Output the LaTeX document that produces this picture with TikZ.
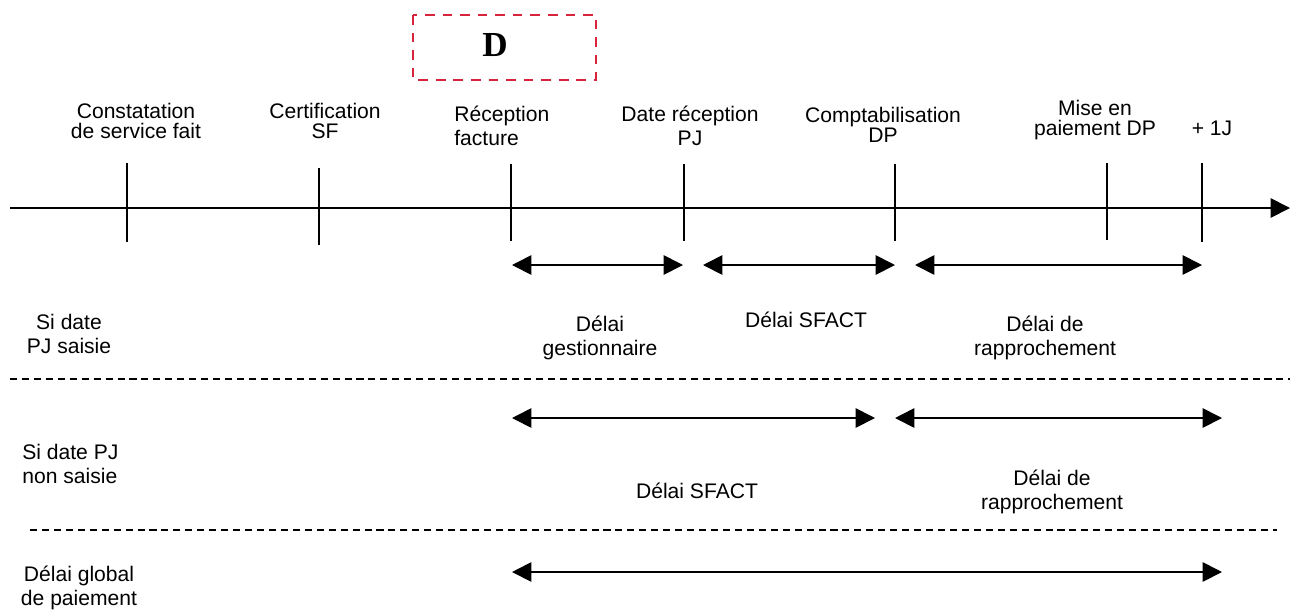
\documentclass[tikz,border=0pt]{standalone}
\usepackage{fontspec}
\setmainfont{Liberation Sans}
\newfontfamily\dfont{Liberation Serif}
\usetikzlibrary{arrows.meta}
\definecolor{dred}{RGB}{215,35,60}

\begin{document}
\begin{tikzpicture}[x=0.02cm, y=-0.02cm, >={Triangle[length=11pt,width=11pt]},
    lbl/.style={align=center, inner sep=0pt, font=\fontsize{12}{13.6}\selectfont},
    lbltight/.style={lbl, font=\fontsize{12}{11.6}\selectfont},
    ticklin/.style={line width=1pt},
    spanarrow/.style={<->, line width=1pt},
    sepline/.style={line width=0.8pt, dash pattern=on 4pt off 2.8pt}]
  \useasboundingbox (0,0) rectangle (1290,609);

  % Marker box above the timeline
  \draw[dred, line width=1.2pt, dash pattern=on 5.5pt off 4.5pt] (413,15) rectangle (596,80);
  \node[font=\dfont\fontsize{20}{24}\selectfont\bfseries, inner sep=0pt] (dmark) at (495,45) {D};

  % Timeline
  \coordinate (tstart) at (10,208);
  \coordinate (tend) at (1290,208);
  \draw[->, line width=1pt] (tstart) -- (tend);

  % Ticks on the timeline
  \draw[ticklin] (127,163) -- (127,242);
  \draw[ticklin] (319,168) -- (319,245);
  \draw[ticklin] (511,164) -- (511,241);
  \draw[ticklin] (684,164) -- (684,241);
  \draw[ticklin] (895,164) -- (895,241);
  \draw[ticklin] (1107,163) -- (1107,240);
  \draw[ticklin] (1202,163) -- (1202,242);

  % Event labels above the ticks
  \node[lbltight] (constat) at (136,121) {Constatation\\de service fait};
  \node[lbltight] (certif) at (325,121) {Certification\\SF};
  \node[lbl, anchor=west, align=left] (recfact) at (454,126) {Réception\\facture};
  \node[lbl] (datepj) at (690,126) {Date réception\\PJ};
  \node[lbltight] (comptab) at (883,125) {Comptabilisation\\DP};
  \node[lbltight] (misepaie) at (1095,120) {Mise en\\paiement DP};
  \node[lbl] (plusj) at (1212,128) {+ 1J};

  % First case: date PJ saisie
  \coordinate (g1) at (512,265);
  \coordinate (g2) at (683,265);
  \coordinate (s1) at (703,265);
  \coordinate (s2) at (895,265);
  \coordinate (r1) at (915,265);
  \coordinate (r2) at (1202,265);
  \draw[spanarrow] (g1) -- (g2);
  \draw[spanarrow] (s1) -- (s2);
  \draw[spanarrow] (r1) -- (r2);

  \node[lbl] (pjsaisie) at (69,334) {Si date\\PJ saisie};
  \node[lbl] (gestion) at (600,338) {Délai\\gestionnaire};
  \node[lbl] (sfacta) at (806,320) {Délai SFACT};
  \node[lbl] (rapproa) at (1045,338) {Délai de\\rapprochement};

  \coordinate (sepa1) at (10,379);
  \coordinate (sepa2) at (1290,379);
  \draw[sepline] (sepa1) -- (sepa2);

  % Second case: date PJ non saisie
  \coordinate (t1) at (512,418);
  \coordinate (t2) at (875,418);
  \coordinate (u1) at (895,418);
  \coordinate (u2) at (1222,418);
  \draw[spanarrow] (t1) -- (t2);
  \draw[spanarrow] (u1) -- (u2);

  \node[lbl, anchor=west, align=left] (pjnon) at (22,464) {Si date PJ\\non saisie};
  \node[lbl] (sfactb) at (697,491) {Délai SFACT};
  \node[lbl] (rapprob) at (1052,492) {Délai de\\rapprochement};

  \coordinate (sepb1) at (30,530);
  \coordinate (sepb2) at (1277,530);
  \draw[sepline] (sepb1) -- (sepb2);

  % Global payment delay
  \coordinate (w1) at (512,572);
  \coordinate (w2) at (1222,572);
  \draw[spanarrow] (w1) -- (w2);
  \node[lbl] (global) at (79,588) {Délai global\\de paiement};
\end{tikzpicture}
\end{document}
